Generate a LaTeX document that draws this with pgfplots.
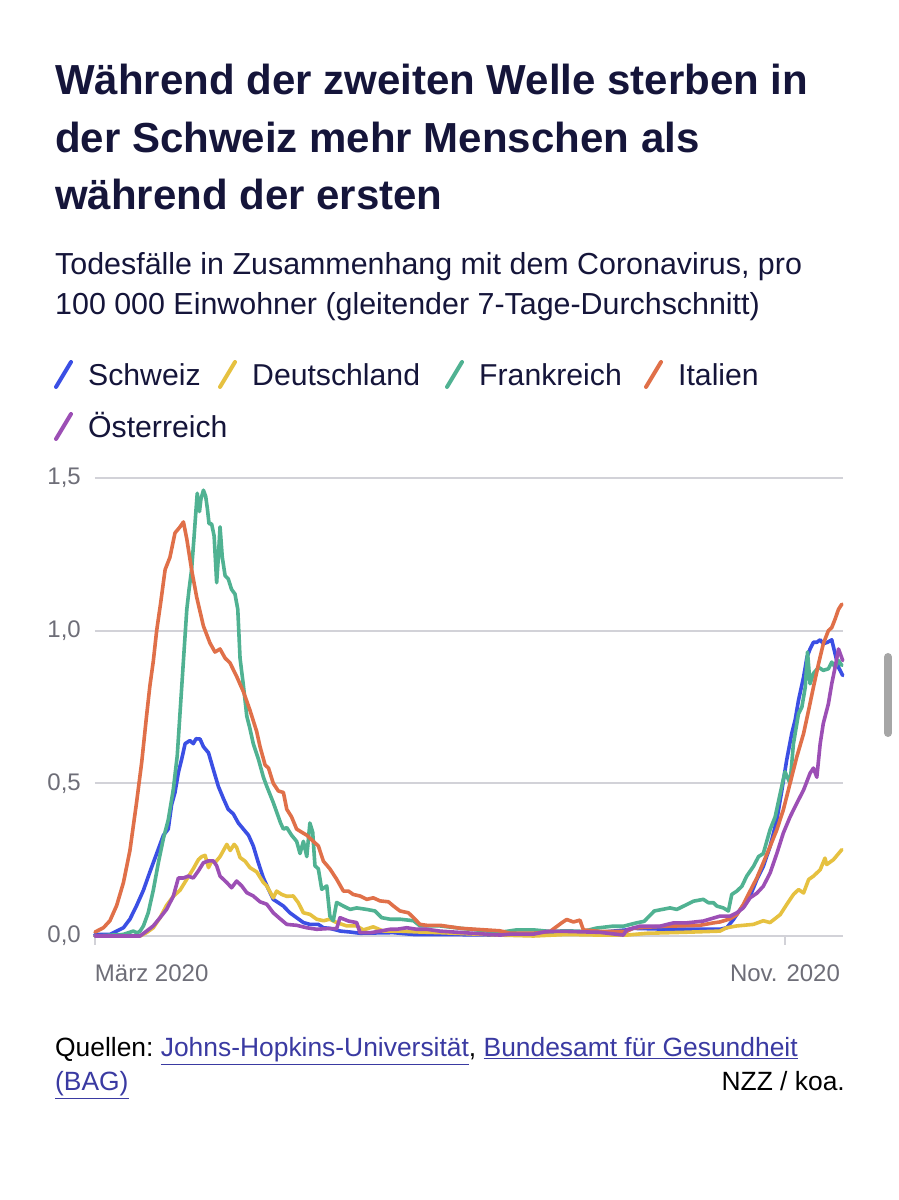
\documentclass[border=0pt]{standalone}
\usepackage{pgfplots}
\pgfplotsset{compat=1.18}
\usepackage{fontspec}
\setmainfont{Liberation Sans}
\definecolor{navy}{HTML}{15153A}
\definecolor{tickgray}{HTML}{6E6E78}
\definecolor{gridgray}{HTML}{D2D2D8}
\definecolor{linkblue}{HTML}{3A3AA2}
\definecolor{cCH}{HTML}{3B4FE4}
\definecolor{cDE}{HTML}{E6C140}
\definecolor{cFR}{HTML}{50B292}
\definecolor{cIT}{HTML}{E07049}
\definecolor{cAT}{HTML}{9C4FB5}
\begin{document}
\begin{tikzpicture}[x=1pt,y=1pt]
\path[use as bounding box, fill=white] (0,0) rectangle (898,1200);
% title
\begin{scope}[every node/.style={anchor=base west, inner sep=0pt, text=navy, font=\fontsize{42}{50}\selectfont\bfseries}]
\node at (55,1105) {Während der zweiten Welle sterben in};
\node at (55,1047) {der Schweiz mehr Menschen als};
\node at (55,990) {während der ersten};
\end{scope}
\begin{scope}[every node/.style={anchor=base west, inner sep=0pt, text=navy, font=\fontsize{30.4}{36}\selectfont}]
\node at (55,925) {Todesfälle in Zusammenhang mit dem Coronavirus, pro};
\node at (55,885) {100~000 Einwohner (gleitender 7-Tage-Durchschnitt)};
\end{scope}
\begin{scope}[every node/.style={anchor=base west, inner sep=0pt, text=navy, font=\fontsize{30.2}{36}\selectfont}]
% legend
\node at (88,814) {Schweiz};
\node at (252,814) {Deutschland};
\node at (479,814) {Frankreich};
\node at (678,814) {Italien};
\node at (88,762) {Österreich};
\end{scope}
\begin{scope}[line width=4pt, line cap=round]
\draw[cCH] (56,813) -- (71,838);
\draw[cDE] (220,813) -- (235,838);
\draw[cFR] (447,813) -- (462,838);
\draw[cIT] (646,813) -- (661,838);
\draw[cAT] (56,761) -- (71,786);
\end{scope}
% footer
\begin{scope}[every node/.style={inner sep=0pt, font=\fontsize{26.4}{32}\selectfont}]
\node[anchor=base west] at (55,143) {Quellen:~\textcolor{linkblue}{\underline{Johns-Hopkins-Universität}}, \textcolor{linkblue}{\underline{Bundesamt für Gesundheit}}};
\node[anchor=base west] at (55,109) {\textcolor{linkblue}{\underline{(BAG)}}};
\node[anchor=base east] at (845,109) {NZZ / koa.};
\end{scope}
% scrollbar
\draw[line width=8pt, line cap=round, color=black!35] (888,543) -- (888,467);
\begin{axis}[
  at={(95pt,264pt)}, anchor=south west, scale only axis,
  width=748pt, height=458pt,
  xmin=0, xmax=265.6, ymin=0, ymax=1.5,
  axis line style={draw=none},
  ytick={0,0.5,1,1.5}, yticklabels={{0,0},{0,5},{1,0},{1,5}},
  ymajorgrids, grid style={color=gridgray, line width=1.8pt},
  ytick style={draw=none},
  xtick={0,245}, xticklabels={{\makebox[0pt][l]{März 2020}},{Nov. 2020}},
  xtick pos=bottom,
  xtick style={draw=gridgray, line width=1.5pt},
  tick align=outside, major tick length=9pt,
  ticklabel style={font=\fontsize{24}{28}\selectfont, text=tickgray},
  xticklabel style={inner sep=0pt, yshift=-20pt},
  yticklabel style={inner sep=0pt, xshift=-5pt},
  clip=false,
  every axis plot/.append style={line width=3.6pt, line join=round, line cap=round},
]
\addplot[cCH] coordinates {(0,0.005) (5.3,0.005) (7.7,0.016) (10.1,0.027) (12.4,0.055) (14.8,0.10) (17.2,0.15) (19.5,0.21) (21.9,0.27) (24.3,0.33) (26,0.35) (27.2,0.43) (28.4,0.47) (29.6,0.535) (30.8,0.58) (32,0.63) (33.7,0.64) (34.9,0.63) (35.9,0.646) (37.3,0.645) (38.5,0.62) (40.3,0.60) (42,0.546) (43.8,0.49) (45.6,0.45) (47.3,0.415) (49.1,0.40) (50.9,0.37) (52.7,0.35) (54.5,0.33) (56.2,0.295) (58,0.24) (59.8,0.19) (61.6,0.153) (63.3,0.12) (65.1,0.109) (66.9,0.098) (69.2,0.076) (71.6,0.06) (74,0.044) (76.3,0.038) (79.3,0.038) (81.1,0.027) (83.4,0.025) (87.2,0.016) (90.6,0.013) (94.1,0.009) (105.9,0.011) (113.1,0.005) (122.5,0.005) (143.8,0.003) (155.7,0.003) (167.5,0.009) (179.3,0.012) (188.8,0.02) (191.2,0.025) (204.2,0.022) (221.9,0.022) (224.3,0.027) (226.7,0.054) (229.1,0.087) (232.6,0.13) (235,0.185) (237.3,0.228) (239.7,0.293) (242.1,0.38) (243.9,0.478) (245.6,0.576) (247.4,0.663) (248.6,0.707) (249.8,0.772) (251.6,0.848) (252.8,0.913) (253.9,0.94) (255.1,0.962) (256.3,0.962) (257.5,0.97) (258.6,0.957) (260.1,0.962) (261.6,0.97) (262.8,0.924) (264,0.88) (265.5,0.853)};
\addplot[cDE] coordinates {(0,0) (16,0) (18.3,0.011) (20.7,0.027) (23.1,0.06) (25.4,0.10) (27.8,0.13) (30.2,0.15) (32.6,0.186) (34.9,0.22) (36.7,0.25) (37.9,0.26) (39.1,0.264) (40.3,0.224) (41.4,0.245) (42.6,0.24) (44.4,0.26) (45.6,0.28) (46.8,0.30) (48,0.28) (49.4,0.30) (50.3,0.29) (51.5,0.257) (53.3,0.245) (55,0.224) (57.4,0.21) (59.8,0.175) (61,0.164) (63.3,0.125) (64.5,0.147) (66.3,0.136) (68.1,0.13) (70.4,0.131) (72.2,0.109) (74,0.076) (76.3,0.071) (78.7,0.055) (81.1,0.05) (83.4,0.055) (85.8,0.044) (89.4,0.033) (92.9,0.033) (95.3,0.02) (98.8,0.03) (102.4,0.016) (108.3,0.016) (115.4,0.013) (122.5,0.011) (143.8,0.003) (155.7,0) (167.5,0.005) (179.3,0.003) (188.8,0.003) (196.2,0.009) (208.9,0.012) (221.9,0.016) (224.3,0.027) (227.9,0.033) (233.8,0.038) (237.3,0.05) (239.7,0.044) (243.3,0.07) (245.6,0.103) (248,0.136) (249.8,0.152) (251.6,0.141) (253.4,0.185) (255.1,0.196) (257.5,0.217) (259.2,0.255) (259.8,0.234) (262.2,0.25) (265.2,0.283)};
\addplot[cFR] coordinates {(0,0) (10,0.005) (13.6,0.016) (15,0.01) (16,0.016) (17.2,0.033) (18.9,0.076) (20.7,0.15) (22.5,0.24) (24.3,0.32) (26,0.38) (27.8,0.48) (29.2,0.59) (30.4,0.76) (31.6,0.93) (32.6,1.07) (33.4,1.135) (34.3,1.20) (35.2,1.31) (35.9,1.40) (36.3,1.45) (37.1,1.39) (37.6,1.43) (38.5,1.46) (39.3,1.44) (39.9,1.40) (40.5,1.35) (41.4,1.35) (42.3,1.31) (43.2,1.157) (43.8,1.24) (44.4,1.34) (45.2,1.24) (46.2,1.18) (47.3,1.17) (48.5,1.135) (49.7,1.12) (50.7,1.07) (51.5,0.91) (52.7,0.82) (53.9,0.72) (55,0.68) (56.2,0.63) (58,0.58) (59.8,0.52) (61,0.49) (63.3,0.437) (65.9,0.37) (66.9,0.35) (68.1,0.355) (69.8,0.33) (71.6,0.31) (72.8,0.27) (74,0.31) (75.2,0.26) (76.3,0.37) (77.3,0.34) (78.1,0.23) (79.3,0.22) (80.5,0.153) (82.3,0.164) (83.4,0.065) (84.6,0.05) (85.8,0.11) (88.2,0.098) (90.6,0.087) (92.9,0.092) (96.5,0.087) (99.4,0.082) (101.8,0.06) (104.8,0.055) (108.3,0.055) (113.1,0.05) (115.4,0.033) (122.5,0.033) (130,0.025) (143.8,0.012) (149.7,0.02) (155.7,0.02) (161.6,0.015) (167.5,0.017) (173.4,0.015) (178.1,0.026) (183.7,0.032) (187.6,0.032) (192.3,0.043) (195,0.048) (198.6,0.082) (204.2,0.092) (206.6,0.087) (210.1,0.103) (212.5,0.114) (216,0.12) (217.8,0.109) (219.6,0.109) (220.8,0.098) (223.1,0.092) (224.9,0.082) (226.1,0.136) (227.9,0.147) (229.7,0.163) (231.4,0.196) (233.8,0.228) (235.6,0.26) (237.3,0.27) (239.7,0.348) (241.5,0.39) (243.3,0.467) (245,0.538) (246.8,0.50) (248,0.63) (249.8,0.728) (251,0.75) (252.2,0.815) (253,0.93) (253.9,0.826) (255.1,0.86) (256.9,0.88) (258.6,0.87) (260.4,0.875) (261.6,0.897) (262.8,0.88) (264,0.902) (265.2,0.886)};
\addplot[cIT] coordinates {(0,0.013) (3,0.027) (5.3,0.05) (7.7,0.10) (10.1,0.175) (12.4,0.28) (14.8,0.44) (16.6,0.57) (18.3,0.72) (19.5,0.82) (20.7,0.90) (21.9,1.00) (23.3,1.09) (24.9,1.20) (26.6,1.24) (28.4,1.32) (30.2,1.34) (31.4,1.356) (32.6,1.30) (34.3,1.20) (36.1,1.11) (38.5,1.015) (40.8,0.96) (42.6,0.93) (44.4,0.94) (46.2,0.91) (47.9,0.895) (50.3,0.85) (52.7,0.80) (55,0.74) (57.4,0.67) (58.6,0.62) (60.4,0.56) (61.6,0.55) (63.3,0.50) (65.1,0.475) (66.9,0.47) (68.1,0.415) (69.8,0.39) (71.6,0.35) (73.4,0.34) (75.2,0.33) (77.5,0.31) (79.3,0.295) (81.1,0.245) (83.4,0.22) (85.8,0.186) (88.2,0.147) (90,0.147) (91.7,0.136) (94.1,0.131) (96.5,0.12) (98.8,0.125) (101.2,0.115) (104.2,0.112) (106,0.098) (108.3,0.082) (111.3,0.076) (113.1,0.06) (115.4,0.038) (117.8,0.035) (122.5,0.035) (130,0.025) (143.8,0.017) (147.4,0.009) (155.7,0.009) (161.6,0.015) (165.7,0.043) (167.5,0.054) (169.9,0.046) (172.2,0.052) (173.4,0.02) (179.3,0.015) (188.8,0.015) (191.2,0.026) (196.2,0.029) (203,0.032) (214.8,0.035) (219.6,0.043) (221.9,0.046) (225.5,0.056) (227.9,0.07) (230.2,0.103) (232.6,0.147) (235,0.19) (237.3,0.24) (239.7,0.293) (242.1,0.348) (244.4,0.413) (246.8,0.50) (249.2,0.587) (251.6,0.663) (253.4,0.74) (255.1,0.815) (256.9,0.891) (258.6,0.957) (260.4,1.0) (261.6,1.01) (262.8,1.038) (264,1.07) (265.2,1.087)};
\addplot[cAT] coordinates {(0,0) (16,0) (18.3,0.016) (20.7,0.033) (23.1,0.06) (25.4,0.087) (27.8,0.13) (29.6,0.19) (31.4,0.19) (33.1,0.196) (34.9,0.19) (36.7,0.213) (38.5,0.24) (40.3,0.246) (42,0.246) (43.2,0.23) (44.4,0.196) (46.8,0.175) (48.5,0.158) (50.3,0.18) (52.1,0.164) (53.9,0.142) (56.2,0.131) (58.6,0.112) (61,0.104) (63.3,0.076) (65.9,0.055) (68.1,0.038) (71.6,0.035) (75.2,0.027) (78.7,0.022) (82.3,0.024) (85.8,0.024) (87,0.06) (90,0.049) (92.9,0.044) (94.1,0.011) (98,0.011) (101.2,0.016) (104.8,0.022) (107.1,0.022) (110.7,0.027) (114.2,0.022) (117.8,0.022) (122.5,0.016) (143.8,0.003) (147.4,0.006) (155.7,0.006) (160.4,0.015) (167.5,0.015) (179.3,0.012) (187.6,0.003) (188.8,0.02) (193.4,0.032) (200.6,0.032) (205.4,0.043) (210.1,0.043) (216,0.049) (221.9,0.065) (225.5,0.065) (227.9,0.076) (230.2,0.092) (232.6,0.125) (235,0.14) (237.3,0.163) (239.7,0.206) (242.1,0.27) (244.4,0.337) (246.8,0.39) (249.2,0.435) (251.6,0.478) (253.9,0.533) (255.1,0.55) (256.3,0.52) (257.5,0.63) (258.6,0.696) (260.4,0.76) (261.6,0.826) (262.8,0.88) (264,0.94) (264.8,0.92) (265.5,0.902)};
\end{axis}
\end{tikzpicture}
\end{document}
